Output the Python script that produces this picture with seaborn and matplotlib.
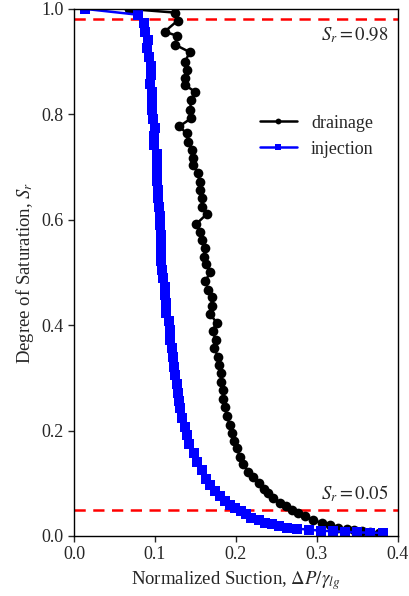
import matplotlib
matplotlib.use("Agg")
import matplotlib.pyplot as plt
import seaborn as sns
import pandas as pd

# Drainage branch: normalized suction vs degree of saturation
drain_x = [0.068, 0.125, 0.128, 0.112, 0.127, 0.125, 0.143, 0.137, 0.139, 0.137,
           0.137, 0.149, 0.145, 0.143, 0.145, 0.130, 0.139, 0.141, 0.146, 0.147,
           0.147, 0.153, 0.155, 0.156, 0.158, 0.158, 0.164, 0.151, 0.156, 0.158,
           0.162, 0.160, 0.163, 0.168, 0.162, 0.166, 0.170, 0.170, 0.168, 0.176,
           0.171, 0.175, 0.173, 0.178, 0.179, 0.181, 0.182, 0.184, 0.184, 0.186,
           0.189, 0.192, 0.195, 0.197, 0.201, 0.205, 0.209, 0.215, 0.221, 0.228,
           0.235, 0.240, 0.246, 0.254, 0.262, 0.269, 0.277, 0.285, 0.295, 0.306,
           0.316, 0.326, 0.337, 0.346, 0.356, 0.366, 0.377]
drain_y = [1.000, 0.993, 0.978, 0.957, 0.949, 0.932, 0.918, 0.900, 0.884, 0.869,
           0.856, 0.843, 0.828, 0.808, 0.793, 0.777, 0.764, 0.748, 0.732, 0.718,
           0.704, 0.688, 0.672, 0.657, 0.641, 0.625, 0.611, 0.592, 0.577, 0.562,
           0.546, 0.530, 0.516, 0.500, 0.483, 0.467, 0.453, 0.437, 0.421, 0.405,
           0.389, 0.372, 0.356, 0.340, 0.324, 0.309, 0.293, 0.277, 0.259, 0.244,
           0.228, 0.211, 0.196, 0.181, 0.166, 0.150, 0.137, 0.122, 0.111, 0.100,
           0.089, 0.081, 0.072, 0.063, 0.056, 0.049, 0.043, 0.037, 0.030, 0.025,
           0.021, 0.016, 0.013, 0.011, 0.009, 0.007, 0.005]

# Injection branch
inj_x = [0.014, 0.079, 0.086, 0.088, 0.091, 0.090, 0.093, 0.095, 0.095, 0.094,
         0.096, 0.096, 0.096, 0.097, 0.100, 0.099, 0.099, 0.103, 0.102, 0.102,
         0.103, 0.104, 0.104, 0.105, 0.106, 0.106, 0.107, 0.107, 0.108, 0.108,
         0.109, 0.110, 0.112, 0.112, 0.114, 0.114, 0.117, 0.118, 0.118, 0.121,
         0.122, 0.123, 0.125, 0.127, 0.129, 0.130, 0.131, 0.133, 0.137, 0.139,
         0.142, 0.148, 0.152, 0.158, 0.163, 0.168, 0.174, 0.180, 0.186, 0.193,
         0.199, 0.206, 0.212, 0.219, 0.228, 0.236, 0.244, 0.253, 0.263, 0.275,
         0.290, 0.305, 0.320, 0.335, 0.350, 0.365, 0.382]
inj_y = [1.000, 0.989, 0.973, 0.957, 0.941, 0.925, 0.908, 0.891, 0.875, 0.858,
         0.842, 0.824, 0.808, 0.791, 0.775, 0.758, 0.742, 0.725, 0.707, 0.691,
         0.674, 0.657, 0.641, 0.625, 0.607, 0.590, 0.572, 0.557, 0.539, 0.522,
         0.505, 0.489, 0.473, 0.457, 0.442, 0.424, 0.407, 0.390, 0.372, 0.356,
         0.339, 0.321, 0.306, 0.288, 0.272, 0.257, 0.242, 0.223, 0.207, 0.192,
         0.175, 0.158, 0.141, 0.125, 0.109, 0.097, 0.086, 0.076, 0.067, 0.059,
         0.053, 0.047, 0.041, 0.035, 0.030, 0.025, 0.022, 0.019, 0.016, 0.014,
         0.012, 0.010, 0.009, 0.008, 0.007, 0.006, 0.006]

# Residual / full-saturation thresholds
thresholds = [0.98, 0.05]
threshold_labels = [r"$S_r = 0.98$", r"$S_r = 0.05$"]

sns.set_style("ticks")
plt.rcParams["font.family"] = ["Liberation Serif", "DejaVu Serif"]
plt.rcParams["mathtext.fontset"] = "stix"
plt.rcParams["font.size"] = 13

drain = pd.DataFrame({"x": drain_x, "y": drain_y})
inj = pd.DataFrame({"x": inj_x, "y": inj_y})

fig = plt.figure(figsize=(4.09, 5.96), dpi=100)
ax = fig.add_axes([0.181, 0.1007, 0.792, 0.8843])

sns.lineplot(data=drain, x="x", y="y", sort=False, estimator=None, ax=ax,
             color="black", marker="o", markersize=7, markeredgewidth=0,
             linewidth=1.8, label="drainage")
sns.lineplot(data=inj, x="x", y="y", sort=False, estimator=None, ax=ax,
             color="blue", marker="s", markersize=7.5, markeredgewidth=0,
             linewidth=1.8, label="injection")

for t in thresholds:
    ax.axhline(t, color="red", linestyle=(0, (4.5, 3)), linewidth=1.8, zorder=1)

ax.text(0.388, 0.950, threshold_labels[0], ha="right", va="center", fontsize=13.5)
ax.text(0.388, 0.080, threshold_labels[1], ha="right", va="center", fontsize=13.5)

ax.set_xlim(0, 0.4)
ax.set_ylim(0, 1.0)
ax.set_xticks([0.0, 0.1, 0.2, 0.3, 0.4])
ax.set_yticks([0.0, 0.2, 0.4, 0.6, 0.8, 1.0])
ax.set_xticklabels(["0.0", "0.1", "0.2", "0.3", "0.4"])
ax.set_yticklabels(["0.0", "0.2", "0.4", "0.6", "0.8", "1.0"])
ax.tick_params(direction="out", length=4, width=1, labelsize=13)
for s in ax.spines.values():
    s.set_visible(True)
    s.set_linewidth(1.0)
    s.set_color("black")

ax.set_xlabel(r"Normalized Suction, $\Delta P/\gamma_{lg}$", fontsize=13.5)
ax.set_ylabel(r"Degree of Saturation, $S_r$", fontsize=13.5)

ax.legend(loc="upper right", bbox_to_anchor=(0.975, 0.83), frameon=False,
          markerscale=0.6, fontsize=13, handlelength=2.0)

fig.savefig("out.png", dpi=100)
